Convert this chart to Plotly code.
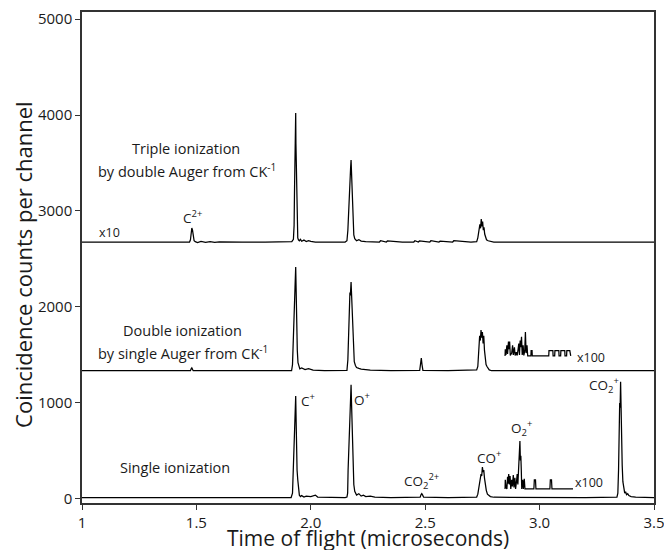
import plotly.graph_objects as go

# ---------------- data ----------------
# Triple ionization trace (scaled x10, offset baseline ~2677)
triple_x = [1.000, 1.470, 1.474, 1.477, 1.480, 1.483, 1.486, 1.490, 1.495, 1.505, 1.520, 1.540, 1.560,
            1.580, 1.600, 1.640, 1.700, 1.800, 1.900, 1.917, 1.924, 1.927, 1.929, 1.931, 1.932, 1.934,
            1.935, 1.937, 1.938, 1.940, 1.943, 1.946, 1.950, 1.955, 1.960, 1.970, 1.980, 1.990, 2.000,
            2.020, 2.060, 2.100, 2.150, 2.158, 2.162, 2.165, 2.168, 2.170, 2.172, 2.174, 2.176, 2.178,
            2.180, 2.182, 2.185, 2.188, 2.192, 2.196, 2.200, 2.210, 2.220, 2.240, 2.300, 2.305, 2.330,
            2.335, 2.400, 2.450, 2.455, 2.470, 2.475, 2.520, 2.525, 2.560, 2.565, 2.620, 2.625, 2.700,
            2.725, 2.730, 2.735, 2.739, 2.742, 2.745, 2.748, 2.751, 2.754, 2.757, 2.760, 2.764, 2.768,
            2.775, 2.785, 2.800, 2.900, 3.000, 3.100, 3.200, 3.300, 3.400, 3.500]
triple_y = [2677, 2677, 2700, 2790, 2823, 2800, 2720, 2690, 2680, 2672, 2684, 2674, 2681,
            2673, 2678, 2680, 2677, 2677, 2677, 2680, 2705, 2850, 3250, 3480, 3900, 4021,
            3700, 3350, 3100, 2850, 2720, 2700, 2690, 2705, 2685, 2697, 2682, 2692, 2683,
            2677, 2680, 2677, 2677, 2690, 2800, 3000, 3250, 3380, 3300, 3450, 3531, 3400,
            3200, 3000, 2850, 2750, 2712, 2700, 2690, 2702, 2686, 2680, 2677, 2690, 2677,
            2688, 2677, 2677, 2690, 2677, 2688, 2677, 2690, 2677, 2685, 2677, 2690, 2677,
            2680, 2720, 2800, 2860, 2820, 2917, 2840, 2890, 2800, 2830, 2760, 2720, 2700,
            2690, 2682, 2677, 2677, 2677, 2677, 2677, 2677, 2677, 2677]

# Double ionization trace (offset baseline ~1336)
double_x = [1.000, 1.474, 1.477, 1.480, 1.483, 1.486, 1.600, 1.800, 1.916, 1.920, 1.923, 1.926,
            1.928, 1.931, 1.934, 1.936, 1.938, 1.941, 1.944, 1.948, 1.952, 1.960, 1.975, 1.990,
            2.010, 2.060, 2.150, 2.158, 2.162, 2.165, 2.168, 2.171, 2.173, 2.176, 2.178, 2.180,
            2.183, 2.186, 2.190, 2.195, 2.200, 2.210, 2.220, 2.260, 2.350, 2.476, 2.480, 2.483,
            2.486, 2.490, 2.600, 2.725, 2.730, 2.735, 2.738, 2.741, 2.744, 2.747, 2.750, 2.753,
            2.756, 2.759, 2.762, 2.766, 2.770, 2.775, 2.780, 2.790, 2.900, 3.000, 3.200, 3.400, 3.500]
double_y = [1336, 1336, 1355, 1365, 1350, 1336, 1336, 1336, 1336, 1400, 1700, 2000,
            2150, 2200, 2417, 2100, 1800, 1550, 1420, 1370, 1355, 1365, 1348, 1358,
            1342, 1336, 1336, 1340, 1450, 1700, 1950, 2150, 2120, 2260, 2150, 1950,
            1750, 1550, 1430, 1390, 1370, 1360, 1352, 1342, 1336, 1340, 1420, 1469,
            1400, 1340, 1336, 1345, 1380, 1550, 1700, 1650, 1760, 1680, 1740, 1620,
            1700, 1550, 1450, 1400, 1380, 1360, 1345, 1336, 1336, 1336, 1336, 1336, 1336]

# Double ionization x100 inset
double_inset_x = [2.849, 2.850, 2.853, 2.857, 2.860, 2.864, 2.866, 2.869, 2.872, 2.878, 2.882, 2.885,
                  2.890, 2.893, 2.898, 2.902, 2.906, 2.909, 2.912, 2.915, 2.918, 2.921, 2.924, 2.928,
                  2.931, 2.935, 2.938, 2.941, 2.945, 2.948, 2.962, 2.963, 2.967, 2.968, 3.040, 3.041,
                  3.058, 3.059, 3.066, 3.067, 3.084, 3.085, 3.092, 3.093, 3.110, 3.111, 3.118, 3.119,
                  3.132, 3.133, 3.136]
double_inset_y = [1490, 1560, 1500, 1600, 1510, 1640, 1560, 1640, 1495, 1520, 1600, 1500,
                  1580, 1495, 1530, 1495, 1560, 1620, 1500, 1650, 1580, 1690, 1500, 1600,
                  1495, 1540, 1740, 1520, 1600, 1490, 1490, 1545, 1545, 1490, 1490, 1545,
                  1545, 1490, 1490, 1545, 1545, 1490, 1490, 1545, 1545, 1490, 1490, 1545,
                  1545, 1490, 1490]

# Single ionization trace (baseline ~15)
single_x = [1.000, 1.914, 1.920, 1.924, 1.927, 1.929, 1.931, 1.934, 1.936, 1.938, 1.940, 1.943,
            1.946, 1.950, 1.955, 1.960, 1.970, 1.980, 2.000, 2.020, 2.030, 2.060, 2.100, 2.150,
            2.158, 2.161, 2.163, 2.166, 2.168, 2.170, 2.172, 2.174, 2.176, 2.178, 2.180, 2.182,
            2.185, 2.188, 2.192, 2.196, 2.200, 2.210, 2.220, 2.230, 2.240, 2.260, 2.280, 2.350,
            2.478, 2.482, 2.485, 2.489, 2.493, 2.600, 2.725, 2.730, 2.735, 2.740, 2.744, 2.747,
            2.750, 2.753, 2.756, 2.759, 2.763, 2.767, 2.772, 2.778, 2.785, 2.800, 3.000, 3.200,
            3.338, 3.342, 3.345, 3.348, 3.350, 3.352, 3.354, 3.356, 3.358, 3.361, 3.364, 3.368,
            3.372, 3.376, 3.380, 3.385, 3.390, 3.400, 3.420, 3.500]
single_y = [15, 15, 60, 300, 600, 750, 700, 1073, 800, 450, 300, 200,
            100, 40, 25, 35, 20, 30, 25, 40, 20, 18, 15, 15,
            20, 60, 300, 500, 750, 800, 1000, 950, 1190, 1000, 750, 500,
            300, 150, 80, 50, 40, 55, 30, 40, 25, 30, 20, 15,
            18, 45, 55, 40, 18, 15, 20, 50, 120, 200, 260, 240,
            333, 280, 300, 220, 150, 90, 50, 35, 25, 18, 15, 15,
            18, 60, 300, 800, 1000, 950, 1222, 900, 600, 350, 180, 100,
            60, 75, 45, 55, 35, 25, 20, 15]

# Single ionization x100 inset
single_inset_x = [2.849, 2.850, 2.853, 2.857, 2.860, 2.862, 2.865, 2.868, 2.871, 2.874, 2.878, 2.881,
                  2.885, 2.888, 2.892, 2.895, 2.899, 2.902, 2.905, 2.908, 2.910, 2.912, 2.914, 2.916,
                  2.918, 2.920, 2.922, 2.926, 2.929, 2.933, 2.936, 2.975, 2.977, 2.982, 2.984, 3.045,
                  3.047, 3.052, 3.054, 3.146]
single_inset_y = [104, 200, 130, 104, 230, 160, 260, 150, 240, 104, 200, 130,
                  250, 120, 220, 104, 180, 260, 150, 300, 420, 380, 604, 400,
                  450, 300, 104, 200, 104, 210, 104, 104, 200, 200, 104, 104,
                  200, 200, 104, 104]

x_tick_vals = [1, 1.5, 2.0, 2.5, 3.0, 3.5]
x_tick_text = ["1", "1.5", "2.0", "2.5", "3.0", "3.5"]
y_tick_vals = [0, 1000, 2000, 3000, 4000, 5000]

# ---------------- figure ----------------
FONT = "Open Sans"
TXT = "#1a1a1a"
fig = go.Figure()
line_style = dict(color="black", width=1.25)
for xs, ys in [(triple_x, triple_y), (double_x, double_y), (double_inset_x, double_inset_y),
               (single_x, single_y), (single_inset_x, single_inset_y)]:
    fig.add_trace(go.Scatter(x=xs, y=ys, mode="lines", line=line_style,
                             hoverinfo="skip", showlegend=False))

labels = [
    ("Triple ionization", 1.455, 3656, 14.5),
    ("by double Auger from CK<sup>-1</sup>", 1.459, 3427, 14.5),
    ("Double ionization", 1.441, 1750, 14.5),
    ("by single Auger from CK<sup>-1</sup>", 1.441, 1521, 14.5),
    ("Single ionization", 1.406, 333, 14.5),
    ("x10", 1.122, 2781, 12.5),
    ("C<sup>2+</sup>", 1.481, 2937, 13.5),
    ("C<sup>+</sup>", 1.988, 1031, 13.5),
    ("O<sup>+</sup>", 2.224, 1042, 13.5),
    ("CO<sub>2</sub><sup>2+</sup>", 2.482, 188, 13.5),
    ("CO<sup>+</sup>", 2.779, 438, 13.5),
    ("O<sub>2</sub><sup>+</sup>", 2.919, 740, 13.5),
    ("CO<sub>2</sub><sup>+</sup>", 3.281, 1188, 13.5),
    ("x100", 3.225, 1479, 12.5),
    ("x100", 3.216, 167, 12.5),
]
for text, x, y, size in labels:
    fig.add_annotation(x=x, y=y, xref="x", yref="y", text=text, showarrow=False,
                       font=dict(family=FONT, size=size, color=TXT),
                       xanchor="center", yanchor="middle")

# axis titles (placed in paper coordinates)
fig.add_annotation(x=-0.103, y=0.485, xref="paper", yref="paper", textangle=-90,
                   text="Coincidence counts per channel", showarrow=False,
                   font=dict(family=FONT, size=22, color=TXT), xanchor="center", yanchor="middle")
fig.add_annotation(x=0.5, y=-0.0713, xref="paper", yref="paper",
                   text="Time of flight (microseconds)", showarrow=False,
                   font=dict(family=FONT, size=21, color=TXT), xanchor="center", yanchor="middle")

axis_common = dict(showline=True, linecolor="#333333", linewidth=1.5, mirror=True,
                   showgrid=False, zeroline=False, ticks="outside", ticklen=5,
                   tickwidth=1.2, tickcolor="#333333", automargin=False,
                   ticklabeloverflow="allow",
                   tickfont=dict(family=FONT, size=15, color=TXT))

fig.update_layout(
    width=664, height=550,
    margin=dict(l=82, r=10, t=12, b=47),
    paper_bgcolor="white", plot_bgcolor="white",
    xaxis=dict(range=[1, 3.5], tickvals=x_tick_vals, ticktext=x_tick_text, **axis_common),
    yaxis=dict(range=[-42, 5073], tickvals=y_tick_vals, **axis_common),
)

# remove the page's default 8 px body margin so the 664x550 figure fills the window
fig.write_html("out.html", config={"displayModeBar": False},
               post_script="document.body.style.margin='0';document.body.style.overflow='hidden';")
